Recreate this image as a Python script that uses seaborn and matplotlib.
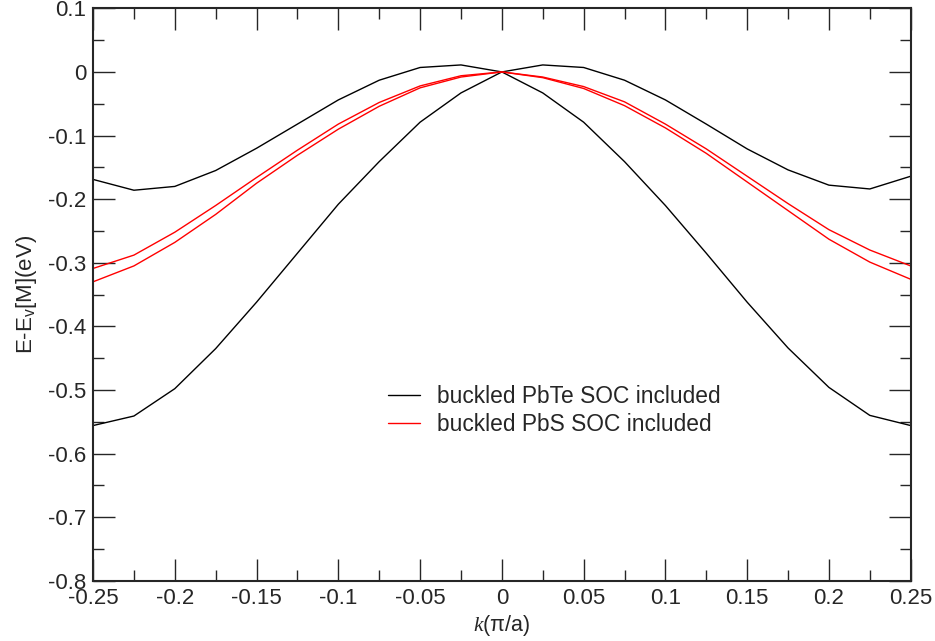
import numpy as np
import pandas as pd
import seaborn as sns
import matplotlib.pyplot as plt
from matplotlib.ticker import MultipleLocator

k = [-0.25, -0.225, -0.2, -0.175, -0.15, -0.125, -0.1, -0.075, -0.05, -0.025, 0.0,
     0.025, 0.05, 0.075, 0.1, 0.125, 0.15, 0.175, 0.2, 0.225, 0.25]

# buckled PbTe, two bands
pbte_upper = [-0.169, -0.186, -0.180, -0.155, -0.120, -0.082, -0.044, -0.013, 0.007, 0.011, 0.0,
              0.011, 0.007, -0.013, -0.044, -0.082, -0.121, -0.154, -0.178, -0.184, -0.164]
pbte_lower = [-0.556, -0.541, -0.498, -0.435, -0.362, -0.285, -0.208, -0.141, -0.079, -0.033, 0.0,
              -0.033, -0.079, -0.141, -0.210, -0.285, -0.362, -0.434, -0.496, -0.540, -0.556]

# buckled PbS, two bands
pbs_upper = [-0.309, -0.288, -0.252, -0.210, -0.166, -0.123, -0.082, -0.048, -0.022, -0.006, 0.0,
             -0.008, -0.023, -0.047, -0.082, -0.121, -0.164, -0.207, -0.248, -0.280, -0.305]
pbs_lower = [-0.330, -0.305, -0.268, -0.224, -0.175, -0.131, -0.090, -0.054, -0.025, -0.008, 0.0,
             -0.009, -0.026, -0.053, -0.088, -0.128, -0.173, -0.218, -0.263, -0.299, -0.326]

labels = ["buckled PbTe SOC included", "buckled PbS SOC included"]

rows = []
for name, band, vals in [(labels[0], "te1", pbte_upper), (labels[0], "te2", pbte_lower),
                         (labels[1], "s1", pbs_upper), (labels[1], "s2", pbs_lower)]:
    for kk, e in zip(k, vals):
        rows.append({"k": kk, "E": e, "material": name, "band": band})
df = pd.DataFrame(rows)

sns.set_style("ticks")
plt.rcParams['font.family'] = ['Liberation Sans', 'DejaVu Sans']
plt.rcParams['mathtext.fontset'] = 'custom'
plt.rcParams['mathtext.rm'] = 'Liberation Sans'
plt.rcParams['mathtext.it'] = 'Liberation Serif:italic'

fig = plt.figure(figsize=(9.35, 6.41), dpi=100)
ax = fig.add_axes([0.0995, 0.094, 0.8745, 0.893])

sns.lineplot(data=df, x="k", y="E", hue="material", units="band", estimator=None,
             palette=["black", "red"], linewidth=1.0, sort=False, ax=ax)

ax.set_xlim(-0.25, 0.25)
ax.set_ylim(-0.8, 0.1)
ax.xaxis.set_minor_locator(MultipleLocator(0.025))
ax.yaxis.set_minor_locator(MultipleLocator(0.05))
ax.set_xticks(np.arange(-0.25, 0.2501, 0.05))
ax.set_xticklabels(["-0.25", "-0.2", "-0.15", "-0.1", "-0.05", "0", "0.05", "0.1",
                    "0.15", "0.2", "0.25"])
ax.set_yticks(np.arange(-0.8, 0.1001, 0.1))
ax.set_yticklabels(["-0.8", "-0.7", "-0.6", "-0.5", "-0.4", "-0.3", "-0.2", "-0.1", "0", "0.1"])

ax.tick_params(which="both", direction="in", top=True, right=True, labelsize=16, width=1, pad=5)
ax.tick_params(which="major", length=16)
ax.tick_params(which="minor", length=8)
for s in ax.spines.values():
    s.set_linewidth(1.5)

ax.set_xlabel(r"$\mathit{k}$(π/a)", fontsize=15.5, labelpad=3)
ax.set_ylabel(r"E-E$_\mathrm{v}$[M](eV)", fontsize=16, labelpad=6)

ax.legend(loc="upper left", bbox_to_anchor=(0.3356, 0.377), frameon=False, fontsize=16.4,
          handlelength=1.4, handletextpad=0.75, labelspacing=0.2)

fig.savefig("out.png", dpi=100)
